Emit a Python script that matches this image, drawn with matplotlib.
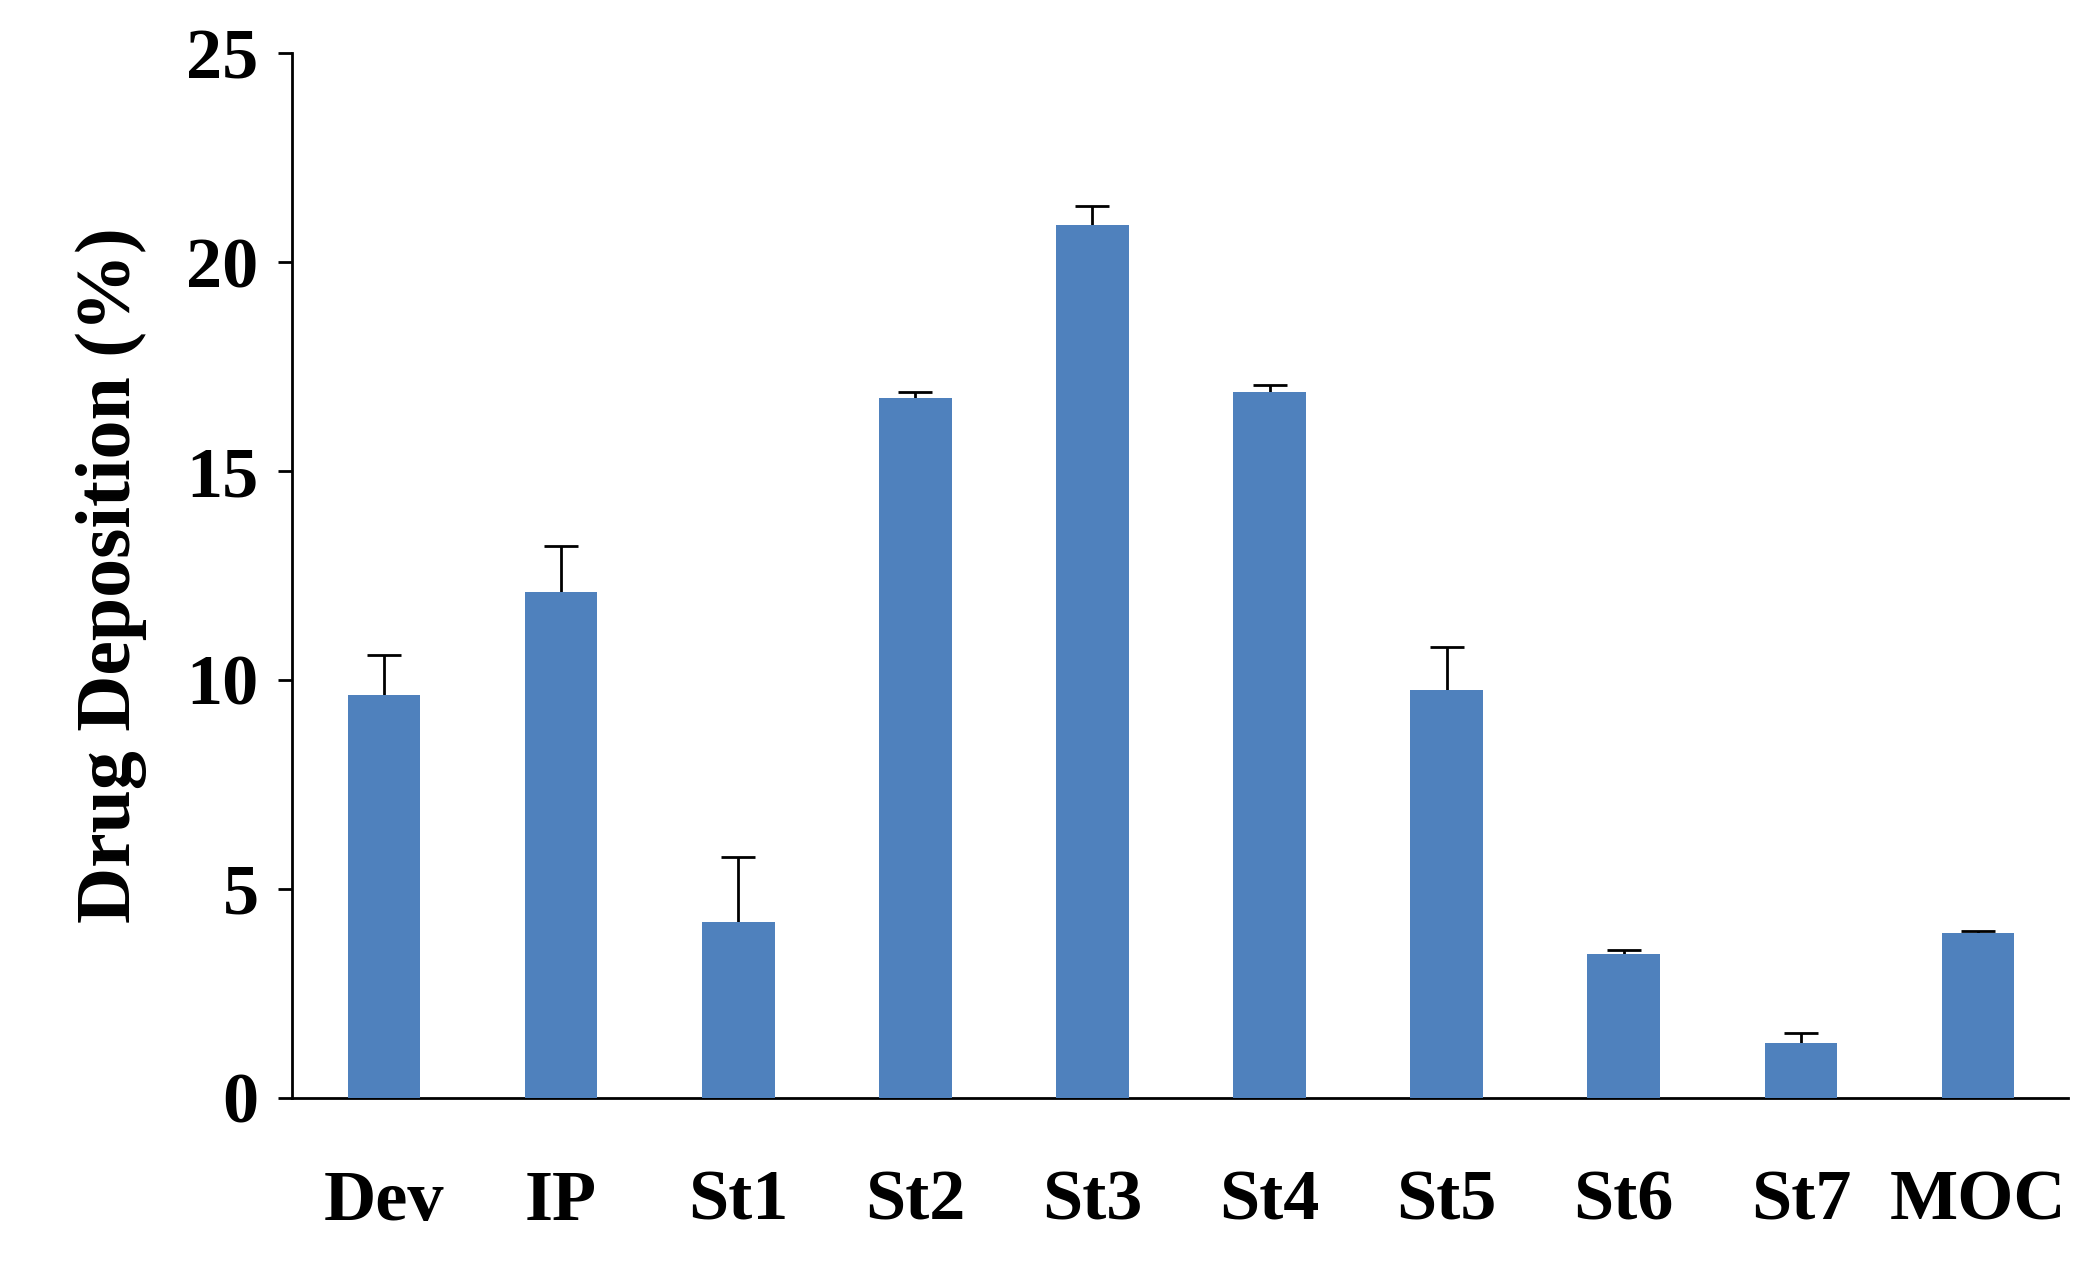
import matplotlib
matplotlib.use("Agg")
import matplotlib.pyplot as plt

categories = ["Dev", "IP", "St1", "St2", "St3", "St4", "St5", "St6", "St7", "MOC"]
values = [9.65, 12.1, 4.2, 16.75, 20.9, 16.9, 9.75, 3.45, 1.3, 3.95]
errors = [0.95, 1.1, 1.55, 0.15, 0.45, 0.15, 1.05, 0.08, 0.25, 0.05]

plt.rcParams['font.family'] = ['Liberation Serif']
plt.rcParams['font.weight'] = 'bold'
fig = plt.figure(figsize=(20.85, 12.69), dpi=100)
ax = fig.add_axes([0.14, 0.135, 0.852, 0.823])
x = list(range(len(categories)))
ax.bar(x, values, width=0.41, color="#4F81BD", zorder=3)
ax.errorbar(x, values, yerr=errors, fmt="none", ecolor="black",
            elinewidth=2, capsize=12, capthick=2, zorder=2)
ax.set_xlim(-0.52, 9.51)
ax.set_ylim(0, 25)
ax.set_yticks([0, 5, 10, 15, 20, 25])
ax.set_xticks(x)
ax.set_xticklabels(categories)
ax.tick_params(axis='x', length=0, pad=52, labelsize=52)
ax.tick_params(axis='y', length=10, width=2, labelsize=52, pad=14)
for s in ["top", "right"]:
    ax.spines[s].set_visible(False)
for s in ["left", "bottom"]:
    ax.spines[s].set_linewidth(2)
ax.set_ylabel("Drug Deposition (%)", fontsize=56, fontweight='bold', labelpad=28)
fig.savefig("out.png", dpi=100)
